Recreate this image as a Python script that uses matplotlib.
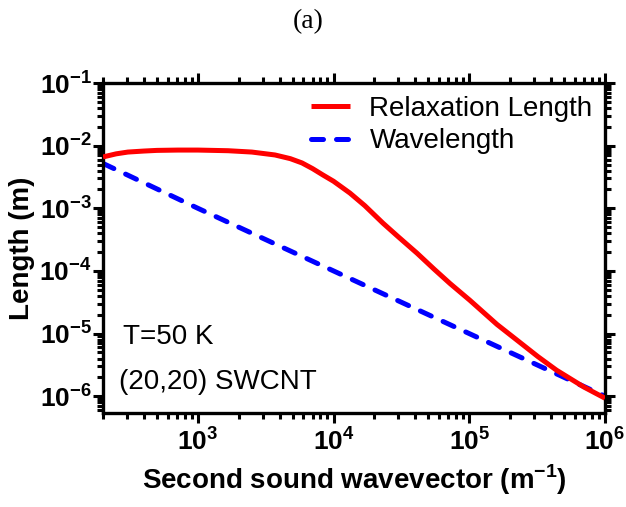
import matplotlib
matplotlib.use('Agg')
from matplotlib import pyplot as plt
from matplotlib.ticker import FixedLocator, FixedFormatter, LogLocator, NullFormatter

# wavevector (1/m) and relaxation length (m)
k_relax = [200, 250, 305, 400, 500, 714, 1000, 1670, 2500, 3700, 4800, 5850,
           7000, 8350, 10000, 13200, 17000, 23100, 30000, 41200, 55000, 72100,
           101000, 160000, 224000, 320000, 440000, 700000, 1000000]
L_relax = [6.6e-3, 7.4e-3, 7.9e-3, 8.2e-3, 8.4e-3, 8.5e-3, 8.5e-3, 8.3e-3,
           7.9e-3, 7.1e-3, 6.2e-3, 5.3e-3, 4.3e-3, 3.4e-3, 2.7e-3, 1.75e-3,
           1.1e-3, 5.8e-4, 3.5e-4, 1.92e-4, 1.07e-4, 6.3e-5, 3.4e-5, 1.4e-5,
           7.9e-6, 4.3e-6, 2.6e-6, 1.4e-6, 9.3e-7]

# wavelength
k_wave = [200, 1000, 10000, 100000, 1000000]
L_wave = [5.2e-3, 1.0e-3, 1.0e-4, 1.0e-5, 1.0e-6]

xticks = [1e3, 1e4, 1e5, 1e6]
xticklabels = [r'$\mathbf{10^{3}}$', r'$\mathbf{10^{4}}$', r'$\mathbf{10^{5}}$', r'$\mathbf{10^{6}}$']
yticks = [1e-6, 1e-5, 1e-4, 1e-3, 1e-2, 1e-1]
yticklabels = [r'$\mathbf{10^{-6}}$', r'$\mathbf{10^{-5}}$', r'$\mathbf{10^{-4}}$',
               r'$\mathbf{10^{-3}}$', r'$\mathbf{10^{-2}}$', r'$\mathbf{10^{-1}}$']

plt.rcParams['font.family'] = ['Liberation Sans', 'DejaVu Sans']
plt.rcParams['mathtext.fontset'] = 'custom'
plt.rcParams['mathtext.rm'] = 'Liberation Sans'
plt.rcParams['mathtext.bf'] = 'Liberation Sans:bold'

fig = plt.figure(figsize=(6.26, 5.07), dpi=100)
ax = fig.add_axes([103 / 626, 1 - 413 / 507, 502 / 626, 330 / 507])

ax.plot(k_relax, L_relax, color='#ff0000', lw=3.6, solid_capstyle='butt',
        solid_joinstyle='round', label='Relaxation Length', zorder=3)
ax.plot(k_wave, L_wave, color='#0000ff', lw=3.6, dashes=(2.4, 2.6),
        dash_capstyle='round', label='Wavelength', zorder=2)

ax.set_xscale('log')
ax.set_yscale('log')
ax.set_xlim(200, 1e6)
ax.set_ylim(5.4e-7, 1e-1)

ax.xaxis.set_major_locator(FixedLocator(xticks))
ax.xaxis.set_major_formatter(FixedFormatter(xticklabels))
ax.yaxis.set_major_locator(FixedLocator(yticks))
ax.yaxis.set_major_formatter(FixedFormatter(yticklabels))
ax.xaxis.set_minor_locator(LogLocator(base=10, subs=range(2, 10), numticks=20))
ax.yaxis.set_minor_locator(LogLocator(base=10, subs=range(2, 10), numticks=20))
ax.xaxis.set_minor_formatter(NullFormatter())
ax.yaxis.set_minor_formatter(NullFormatter())

for s in ax.spines.values():
    s.set_linewidth(2.4)
ax.tick_params(which='both', direction='out', top=True, right=True, width=2.2)
ax.tick_params(which='major', length=7)
ax.tick_params(which='minor', length=4)
ax.tick_params(axis='x', which='major', labelsize=19, pad=4)
ax.tick_params(axis='y', which='major', labelsize=19, pad=1)

ax.set_xlabel(r'Second sound wavevector (m$^{\mathbf{-1}}$)', fontsize=20,
              fontweight='bold', labelpad=5)
ax.set_ylabel('Length (m)', fontsize=20, fontweight='bold', labelpad=3)

ax.text(123 / 626, 1 - 337 / 507, 'T=50 K', transform=fig.transFigure,
        fontsize=20, va='center', ha='left')
ax.text(119 / 626, 1 - 382 / 507, '(20,20) SWCNT', transform=fig.transFigure,
        fontsize=20, va='center', ha='left')

ax.legend(loc='upper right', frameon=False, fontsize=20, handlelength=1.4,
          handletextpad=0.7, labelspacing=0.25, borderpad=0.25, borderaxespad=0.2)

fig.text(308 / 626, 1 - 22 / 507, '(a)', family='Liberation Serif', fontsize=20,
         ha='center', va='center')

fig.savefig('out.png', dpi=100)
